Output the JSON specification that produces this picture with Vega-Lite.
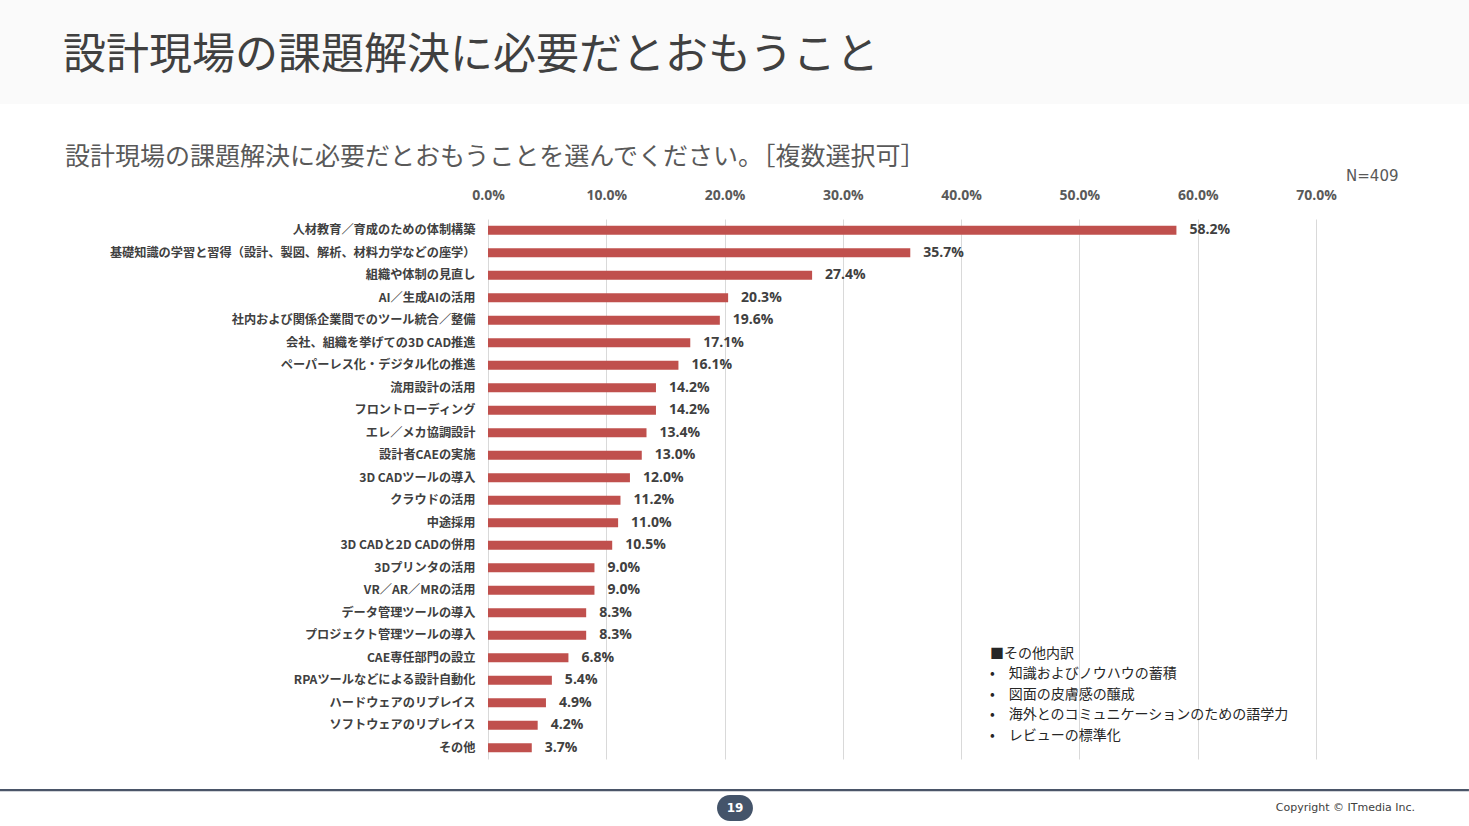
{
  "$schema": "https://vega.github.io/schema/vega-lite/v6.json",
  "width": 828,
  "height": 540,
  "autosize": {"type": "none"},
  "padding": {"left": 488, "top": 219, "right": 153, "bottom": 67},
  "background": "white",
  "config": {"view": {"stroke": null}, "font": "Noto Sans CJK JP"},
  "resolve": {"scale": {"x": "independent", "y": "independent"}, "axis": {"x": "independent", "y": "independent"}},
  "layer": [
    {
      "data": {"values": [{"page": "header"}]},
      "layer": [
        {
          "mark": {"type": "rect", "fill": "#fafafa"},
          "encoding": {
            "x": {"datum": -0.4126, "type": "quantitative", "scale": {"domain": [0, 0.7], "nice": false, "zero": false}, "axis": null},
            "x2": {"datum": 0.8293},
            "y": {"datum": -9.74, "type": "quantitative", "scale": {"domain": [0, 24], "reverse": true, "nice": false, "zero": false}, "axis": null},
            "y2": {"datum": -5.11}
          }
        },
        {
          "mark": {"type": "text", "text": "設計現場の課題解決に必要だとおもうこと", "font": "Noto Sans CJK JP", "fontSize": 43, "color": "#404040", "align": "left", "baseline": "middle"},
          "encoding": {
            "x": {"datum": -0.3592, "type": "quantitative"},
            "y": {"datum": -7.25, "type": "quantitative"}
          }
        },
        {
          "mark": {"type": "text", "text": "設計現場の課題解決に必要だとおもうことを選んでください。［複数選択可］", "font": "Noto Sans CJK JP", "fontSize": 25, "color": "#595959", "align": "left", "baseline": "middle"},
          "encoding": {
            "x": {"datum": -0.3576, "type": "quantitative"},
            "y": {"datum": -2.75, "type": "quantitative"}
          }
        },
        {
          "mark": {"type": "text", "text": "N=409", "font": "DejaVu Sans", "fontSize": 15, "color": "#595959", "align": "left", "baseline": "middle"},
          "encoding": {
            "x": {"datum": 0.7254, "type": "quantitative"},
            "y": {"datum": -1.91, "type": "quantitative"}
          }
        },
        {
          "mark": {"type": "rule", "stroke": "#4a5568", "strokeWidth": 2.2},
          "encoding": {
            "x": {"datum": -0.4126, "type": "quantitative"},
            "x2": {"datum": 0.8293},
            "y": {"datum": 25.38, "type": "quantitative"}
          }
        },
        {
          "mark": {"type": "rect", "fill": "#44546a", "cornerRadius": 13},
          "encoding": {
            "x": {"datum": 0.1936, "type": "quantitative"},
            "x2": {"datum": 0.224},
            "y": {"datum": 25.6, "type": "quantitative"},
            "y2": {"datum": 26.76}
          }
        },
        {
          "mark": {"type": "text", "text": "19", "font": "DejaVu Sans", "fontWeight": "bold", "fontSize": 12, "color": "white", "align": "center", "baseline": "middle"},
          "encoding": {
            "x": {"datum": 0.2088, "type": "quantitative"},
            "y": {"datum": 26.18, "type": "quantitative"}
          }
        },
        {
          "mark": {"type": "text", "text": "Copyright © ITmedia Inc.", "font": "DejaVu Sans", "fontSize": 11, "color": "#404040", "align": "right", "baseline": "middle"},
          "encoding": {
            "x": {"datum": 0.7837, "type": "quantitative"},
            "y": {"datum": 26.18, "type": "quantitative"}
          }
        }
      ]
    },
    {
      "data": {"values": [{"lines": ["■その他内訳", "•　知識およびノウハウの蓄積", "•　図面の皮膚感の醸成", "•　海外とのコミュニケーションのための語学力", "•　レビューの標準化"]}]},
      "mark": {"type": "text", "font": "Noto Sans CJK JP", "fontSize": 14, "color": "#262626", "align": "left", "baseline": "alphabetic", "lineHeight": 20.5},
      "encoding": {
        "x": {"datum": 0.4244, "type": "quantitative", "scale": {"domain": [0, 0.7], "nice": false, "zero": false}, "axis": null},
        "y": {"datum": 19.51, "type": "quantitative", "scale": {"domain": [0, 24], "reverse": true, "nice": false, "zero": false}, "axis": null},
        "text": {"field": "lines", "type": "nominal"}
      }
    },
    {
      "data": {
        "values": [
          {"item": "人材教育／育成のための体制構築", "share": 0.582},
          {"item": "基礎知識の学習と習得（設計、製図、解析、材料力学などの座学）", "share": 0.357},
          {"item": "組織や体制の見直し", "share": 0.274},
          {"item": "AI／生成AIの活用", "share": 0.203},
          {"item": "社内および関係企業間でのツール統合／整備", "share": 0.196},
          {"item": "会社、組織を挙げての3D CAD推進", "share": 0.171},
          {"item": "ペーパーレス化・デジタル化の推進", "share": 0.161},
          {"item": "流用設計の活用", "share": 0.142},
          {"item": "フロントローディング", "share": 0.142},
          {"item": "エレ／メカ協調設計", "share": 0.134},
          {"item": "設計者CAEの実施", "share": 0.130},
          {"item": "3D CADツールの導入", "share": 0.120},
          {"item": "クラウドの活用", "share": 0.112},
          {"item": "中途採用", "share": 0.110},
          {"item": "3D CADと2D CADの併用", "share": 0.105},
          {"item": "3Dプリンタの活用", "share": 0.090},
          {"item": "VR／AR／MRの活用", "share": 0.090},
          {"item": "データ管理ツールの導入", "share": 0.083},
          {"item": "プロジェクト管理ツールの導入", "share": 0.083},
          {"item": "CAE専任部門の設立", "share": 0.068},
          {"item": "RPAツールなどによる設計自動化", "share": 0.054},
          {"item": "ハードウェアのリプレイス", "share": 0.049},
          {"item": "ソフトウェアのリプレイス", "share": 0.042},
          {"item": "その他", "share": 0.037}
        ]
      },
      "encoding": {
        "y": {
          "field": "item", "type": "nominal", "sort": null, "title": null,
          "axis": {"orient": "left", "domain": false, "ticks": false, "labelPadding": 13, "labelFont": "Noto Sans CJK JP", "labelFontSize": 12.2, "labelFontWeight": "bold", "labelColor": "#404040", "labelLimit": 600}
        },
        "x": {
          "field": "share", "type": "quantitative", "title": null,
          "scale": {"domain": [0, 0.7], "nice": false},
          "axis": {"orient": "top", "format": ".1%", "values": [0, 0.1, 0.2, 0.3, 0.4, 0.5, 0.6, 0.7], "domain": false, "ticks": false, "grid": true, "gridColor": "#d9d9d9", "labelFlush": false, "labelPadding": 17, "labelFont": "Open Sans", "labelFontSize": 14, "labelFontWeight": "bold", "labelColor": "#595959"}
        }
      },
      "layer": [
        {"mark": {"type": "bar", "size": 9, "color": "#c0504d"}},
        {
          "mark": {"type": "text", "align": "left", "baseline": "middle", "dx": 13, "font": "Open Sans", "fontSize": 14, "fontWeight": "bold", "color": "#404040"},
          "encoding": {"text": {"field": "share", "type": "quantitative", "format": ".1%"}}
        }
      ]
    }
  ]
}
